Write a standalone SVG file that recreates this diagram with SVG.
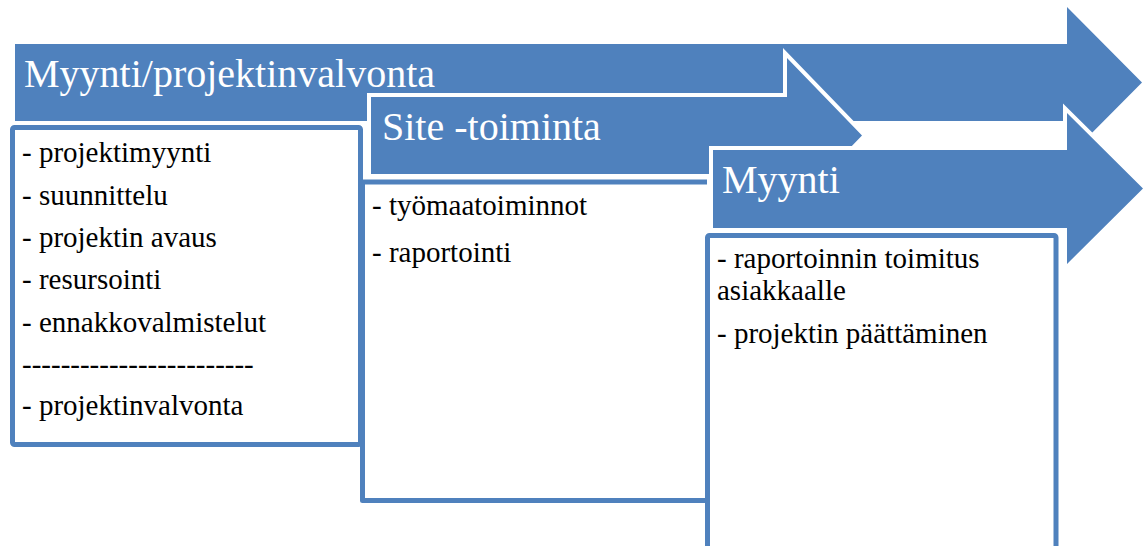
<svg xmlns="http://www.w3.org/2000/svg" width="1144" height="546" viewBox="0 0 1144 546">
<style>
.arrow{fill:#4F81BD;stroke:#ffffff;stroke-width:8;paint-order:stroke;stroke-linejoin:miter}
.box{fill:#ffffff;stroke:#4F81BD;stroke-width:5;stroke-linejoin:round}
text{font-family:"Liberation Serif","Times New Roman",serif}
.head{font-size:40px;fill:#ffffff}
.item{font-size:29px;fill:#000000}
</style>
<rect width="1144" height="546" fill="#ffffff"/>
<g id="connectors"></g>
<g id="stage1">
<path class="arrow" d="M15,44 H1067 V7 L1142,82.5 L1067,158 V121 H15 Z"/>
<text class="head" x="24" y="87">Myynti/projektinvalvonta</text>
<rect class="box" x="12.5" y="127.5" width="348" height="317" rx="2"/>
<text class="item" x="22" y="162">- projektimyynti</text>
<text class="item" x="22" y="204.5">- suunnittelu</text>
<text class="item" x="22" y="247">- projektin avaus</text>
<text class="item" x="22" y="289">- resursointi</text>
<text class="item" x="22" y="331.5">- ennakkovalmistelut</text>
<text class="item" x="22" y="373.5">------------------------</text>
<text class="item" x="22" y="415">- projektinvalvonta</text>
</g>
<g id="stage2">
<path class="arrow" d="M371,97 H787 V58 L862,135.5 L787,213 V174 H371 Z"/>
<text class="head" x="382" y="140">Site -toiminta</text>
<path class="box" d="M707,182 H362.5 V500.5 H707"/>
<text class="item" x="372" y="215">- työmaatoiminnot</text>
<text class="item" x="372" y="262">- raportointi</text>
</g>
<g id="stage3">
<path class="arrow" d="M713,150 H1067 V113 L1143,188.5 L1067,264 V228 H713 Z"/>
<text class="head" x="722" y="193">Myynti</text>
<rect class="box" x="707.5" y="235.5" width="348.5" height="340" rx="2"/>
<text class="item" x="717" y="268">- raportoinnin toimitus</text>
<text class="item" x="717" y="300">asiakkaalle</text>
<text class="item" x="717" y="343">- projektin päättäminen</text>
</g>
</svg>
